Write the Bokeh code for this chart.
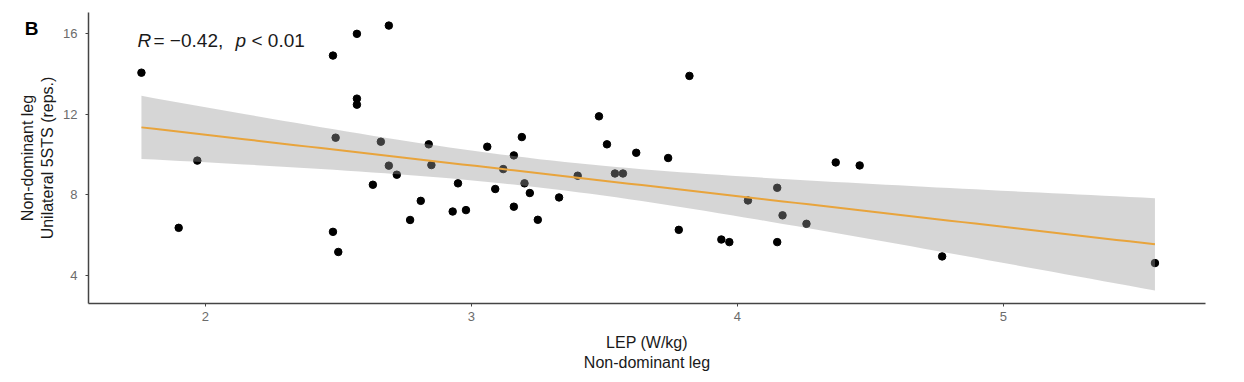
import numpy as np
from bokeh.plotting import figure
from bokeh.models import Label, Range1d, FixedTicker, LinearAxis
from bokeh.embed import file_html
from bokeh.resources import INLINE

# LEP (W/kg), non-dominant leg
lep = [1.76, 1.90, 1.97, 2.48, 2.57, 2.69, 2.57, 2.57, 2.49, 2.48, 2.50, 2.66, 2.63,
       2.69, 2.72, 2.77, 2.81, 2.84, 2.85, 2.95, 2.93, 2.98, 3.06, 3.09, 3.12, 3.16,
       3.16, 3.19, 3.20, 3.22, 3.25, 3.33, 3.40, 3.48, 3.51, 3.54, 3.57, 3.62, 3.74,
       3.78, 3.82, 3.94, 3.97, 4.04, 4.15, 4.15, 4.17, 4.26, 4.37, 4.46, 4.77, 5.57]
# Unilateral 5STS (reps.), non-dominant leg
sts = [14.07, 6.36, 9.70, 14.92, 16.00, 16.41, 12.78, 12.48, 10.84, 6.16, 5.16, 10.64, 8.50,
       9.45, 9.00, 6.75, 7.70, 10.51, 9.48, 8.57, 7.17, 7.24, 10.39, 8.29, 9.28, 9.96,
       7.41, 10.87, 8.57, 8.09, 6.76, 7.87, 8.95, 11.90, 10.51, 9.06, 9.06, 10.09, 9.83,
       6.26, 13.91, 5.78, 5.65, 7.72, 8.35, 5.65, 6.98, 6.56, 9.61, 9.46, 4.94, 4.61]
x_ticks = [2, 3, 4, 5]
y_ticks = [4, 8, 12, 16]

# linear fit with 95% confidence band
xa = np.array(lep); ya = np.array(sts)
n = len(xa)
b1, b0 = np.polyfit(xa, ya, 1)
resid = ya - (b0 + b1 * xa)
s = np.sqrt(np.sum(resid ** 2) / (n - 2))
sxx = np.sum((xa - xa.mean()) ** 2)
t_crit = 2.009
xg = np.linspace(xa.min(), xa.max(), 80)
yg = b0 + b1 * xg
se = s * np.sqrt(1.0 / n + (xg - xa.mean()) ** 2 / sxx)

p = figure(width=1244, height=382, output_backend="svg", toolbar_location=None,
           x_range=Range1d(1.561, 5.76), y_range=Range1d(2.6, 17.06),
           min_border_left=88, min_border_right=39, min_border_top=12, min_border_bottom=79)
p.outline_line_color = None
p.xgrid.visible = False
p.ygrid.visible = False
p.background_fill_color = "white"

p.scatter(lep, sts, size=7.5, color="black")
p.varea(x=xg, y1=yg - t_crit * se, y2=yg + t_crit * se, fill_color="#999999", fill_alpha=0.4)
p.line(xg, yg, line_color="#E8A43C", line_width=2)

font = "Liberation Sans"
for ax, ticks in ((p.xaxis, x_ticks), (p.yaxis, y_ticks)):
    ax.ticker = FixedTicker(ticks=ticks)
    ax.minor_tick_line_color = None
    ax.axis_line_color = "#444444"
    ax.axis_line_width = 1.5
    ax.major_tick_line_color = "#444444"
    ax.major_tick_in = 0
    ax.major_tick_out = 3
    ax.major_label_text_color = "#6b6b6b"
    ax.major_label_text_font = font
    ax.major_label_text_font_size = "13px"
    ax.axis_label_text_font = font
    ax.axis_label_text_font_size = "16px"
    ax.axis_label_text_font_style = "normal"
    ax.axis_label_text_color = "#1a1a1a"
p.xaxis.major_label_standoff = 5
p.yaxis.major_label_standoff = 8
p.xaxis.axis_label = "LEP (W/kg)\nNon-dominant leg"
p.yaxis.axis_label = "Non-dominant leg\nUnilateral 5STS (reps.)"
p.xaxis.axis_label_standoff = 10
p.yaxis.axis_label_standoff = 4

# panel tag "B": label of a bare extra axis in the left border, lifted to the top
bax = LinearAxis(axis_label="B" + "\n " * 11, ticker=FixedTicker(ticks=[]),
                 axis_line_color=None, major_tick_line_color=None,
                 minor_tick_line_color=None, major_tick_out=0, major_tick_in=0,
                 minor_tick_out=0, major_label_text_font_size="0px",
                 axis_label_text_font=font, axis_label_text_font_size="19px",
                 axis_label_text_font_style="bold", axis_label_text_color="black",
                 axis_label_text_line_height=1.125,
                 axis_label_standoff=-23)
try:
    bax.axis_label_orientation = "horizontal"
except Exception:
    pass
p.add_layout(bax, "left")

def lab(text, x, y, size, style="normal", color="#1a1a1a"):
    p.add_layout(Label(x=x, y=y, x_units="screen", y_units="screen", text=text,
                       text_font=font, text_font_size=size, text_font_style=style,
                       text_color=color, text_align="left", text_baseline="alphabetic"))

# frame origin (image coords): left 88, bottom 303
L, B = 88, 303
lab("R", 137 - L, B - 40, "19px", style="italic")
lab("= \u22120.42,", 153 - L, B - 40, "19px")
lab("p", 235 - L, B - 40, "19px", style="italic")
lab("< 0.01", 251 - L, B - 40, "19px")

open("out.html", "w").write(file_html(p, INLINE))
